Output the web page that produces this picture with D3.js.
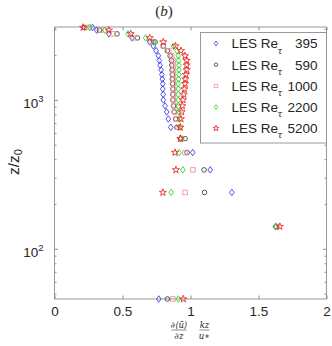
<!DOCTYPE html>
<html>
<head>
<meta charset="utf-8">
<script src="https://cdn.jsdelivr.net/npm/d3@7"></script>
<style>
  body { margin: 0; background: #fff; }
  text { font-family: "Liberation Sans", Arial, sans-serif; fill: #262626; }
</style>
</head>
<body>
<div id="chart"></div>
<script>
// z/z0 levels shared by all runs (bottom to top)
const zRows = [46, 141, 239, 339, 443, 550, 655, 745, 830, 912, 1000, 1090, 1185, 1285, 1380,
  1480, 1590, 1710, 1840, 1980, 2140, 2300, 2450, 2610, 2780, 2940, 3068]

// normalised gradient for each run
const re395 = [0.767, 1.625, 1.304, 1.145, 1.016, 0.925, 0.855, 0.837, 0.825, 0.813, 0.80, 0.80, 0.796,
  0.796, 0.793, 0.789, 0.784, 0.776, 0.771, 0.764, 0.747, 0.727, 0.70, 0.57, 0.40, 0.31, 0.28]
const re590 = [0.83, 1.63, 1.103, 1.10, 0.975, 0.96, 0.90, 0.89, 0.88, 0.875, 0.87, 0.87, 0.87,
  0.868, 0.866, 0.866, 0.864, 0.862, 0.86, 0.85, 0.83, 0.80, 0.74, 0.61, 0.46, 0.33, 0.22]
const re1000 = [0.871, 1.635, 0.96, 1.018, 0.96, 0.935, 0.91, 0.895, 0.885, 0.88, 0.875, 0.875, 0.874,
  0.874, 0.874, 0.874, 0.874, 0.874, 0.874, 0.862, 0.84, 0.80, 0.72, 0.58, 0.43, 0.34, 0.25]
const re2200 = [0.91, 1.628, 0.858, 0.944, 0.916, 0.93, 0.925, 0.92, 0.915, 0.912, 0.91, 0.91, 0.91,
  0.91, 0.912, 0.915, 0.915, 0.915, 0.912, 0.91, 0.90, 0.875, 0.73, 0.67, 0.54, 0.37, 0.26]
const re5200 = [0.947, 1.657, 0.797, 0.893, 0.886, 0.925, 0.925, 0.93, 0.935, 0.94, 0.945, 0.95, 0.955,
  0.96, 0.962, 0.966, 0.972, 0.972, 0.972, 0.96, 0.93, 0.89, 0.80, 0.70, 0.56, 0.40, 0.21]

const runLabels = ['395', '590', '1000', '2200', '5200']
const xTicks = [0, 0.5, 1, 1.5, 2]
const yTicks = [100, 1000]

const runs = [
  { label: runLabels[0], values: re395, color: '#3434ee', marker: 'diamond' },
  { label: runLabels[1], values: re590, color: '#3a3a3a', marker: 'circle' },
  { label: runLabels[2], values: re1000, color: '#f38c8c', marker: 'square' },
  { label: runLabels[3], values: re2200, color: '#22d622', marker: 'diamond' },
  { label: runLabels[4], values: re5200, color: '#ee2222', marker: 'star' }
]

const width = 332
const height = 346
const plot = { left: 54.5, right: 326.5, top: 27, bottom: 299 }

const svg = d3.select('#chart')
  .append('svg')
  .attr('width', width)
  .attr('height', height)

const x = d3.scaleLinear().domain([0, 2]).range([plot.left, plot.right])
const y = d3.scaleLog().domain([46, 3090]).range([plot.bottom, plot.top])

// marker shapes, s is roughly the marker width in px
const markerPath = (type, s) => {
  if (type === 'diamond') return `M0,${-s * 0.7}L${s * 0.5},0L0,${s * 0.7}L${-s * 0.5},0Z`
  if (type === 'square') return `M${-s / 2},${-s / 2}h${s}v${s}h${-s}Z`
  if (type === 'circle') return d3.symbol(d3.symbolCircle, s * s * 0.78)()
  return d3.symbol(d3.symbolStar, s * s * 0.5)()
}

// axes box
const axisColor = '#8f8f8f'
svg.append('rect')
  .attr('x', plot.left).attr('y', plot.top)
  .attr('width', plot.right - plot.left).attr('height', plot.bottom - plot.top)
  .attr('fill', 'none').attr('stroke', axisColor).attr('stroke-width', 0.9)

const styleAxis = g => {
  g.select('.domain').remove()
  g.selectAll('line').attr('stroke', axisColor)
  g.selectAll('text').attr('fill', '#262626').style('font-size', '13.5px')
    .style('font-family', '"Liberation Sans", Arial, sans-serif')
}

svg.append('g')
  .attr('transform', `translate(0,${plot.bottom})`)
  .call(d3.axisBottom(x).tickValues(xTicks).tickSize(-3.5).tickPadding(7).tickFormat(d3.format('')))
  .call(styleAxis)

svg.append('g')
  .attr('transform', `translate(0,${plot.top})`)
  .call(d3.axisTop(x).tickValues(xTicks).tickSize(-3.5).tickFormat(''))
  .call(styleAxis)

// minor ticks for the log axis
const minorTicks = y.ticks().filter(t => !yTicks.includes(t))
const yLeft = svg.append('g')
  .attr('transform', `translate(${plot.left},0)`)
  .call(d3.axisLeft(y).tickValues(yTicks).tickSize(-3.5).tickPadding(11).tickFormat(''))
  .call(styleAxis)
yLeft.selectAll('.tick text')
  .attr('dy', '0.55em')
  .each(function (d) {
    const t = d3.select(this)
    t.append('tspan').text('10')
    t.append('tspan').attr('dy', '-0.62em').style('font-size', '9.5px').text(Math.round(Math.log10(d)))
  })

svg.append('g')
  .attr('transform', `translate(${plot.right},0)`)
  .call(d3.axisRight(y).tickValues(yTicks).tickSize(-3.5).tickFormat(''))
  .call(styleAxis)

svg.append('g')
  .attr('transform', `translate(${plot.left},0)`)
  .call(d3.axisLeft(y).tickValues(minorTicks).tickSize(-2).tickFormat(''))
  .call(styleAxis)
svg.append('g')
  .attr('transform', `translate(${plot.right},0)`)
  .call(d3.axisRight(y).tickValues(minorTicks).tickSize(-2).tickFormat(''))
  .call(styleAxis)

// data markers
runs.forEach(run => {
  svg.append('g')
    .selectAll('path')
    .data(run.values.map((v, i) => ({ v, z: zRows[i] })))
    .enter().append('path')
    .attr('transform', d => `translate(${x(d.v)},${y(d.z)})`)
    .attr('d', markerPath(run.marker, run.marker === 'star' ? 5.6 : 4.6))
    .attr('fill', 'none')
    .attr('stroke', run.color)
    .attr('stroke-width', 0.85)
})

// legend
const legend = svg.append('g')
legend.append('rect')
  .attr('x', 200.5).attr('y', 32.5)
  .attr('width', 126).attr('height', 110.5)
  .attr('fill', '#fff').attr('stroke', axisColor).attr('stroke-width', 0.9)

const item = legend.selectAll('g.item')
  .data(runs)
  .enter().append('g')
  .attr('class', 'item')
  .attr('transform', (d, i) => `translate(0,${43.5 + i * 21.2})`)

item.append('path')
  .attr('transform', 'translate(216,0)')
  .attr('d', d => markerPath(d.marker, d.marker === 'star' ? 4.6 : 3.4))
  .attr('fill', 'none')
  .attr('stroke', d => d.color)
  .attr('stroke-width', 0.8)

item.append('text')
  .attr('x', 231.5).attr('y', 4.8)
  .style('font-size', '13.5px')
  .text('LES Re')
item.append('text')
  .attr('x', 277.5).attr('y', 10)
  .style('font-size', '8.5px')
  .style('font-family', '"DejaVu Serif", serif')
  .style('font-style', 'italic')
  .text('τ')
item.append('text')
  .attr('x', 317.5).attr('y', 4.8)
  .attr('text-anchor', 'end')
  .style('font-size', '13.5px')
  .text(d => d.label)

// title
const title = svg.append('text')
  .attr('x', 164).attr('y', 15.5)
  .attr('text-anchor', 'middle')
  .style('font-family', '"Liberation Serif", "DejaVu Serif", serif')
  .style('font-size', '15px')
title.append('tspan').text('(')
title.append('tspan').style('font-style', 'italic').text('b')
title.append('tspan').text(')')

// y label
const ylab = svg.append('text')
  .attr('transform', 'translate(19,162) rotate(-90)')
  .attr('text-anchor', 'middle')
  .style('font-size', '15.5px')
ylab.append('tspan').text('z/z')
ylab.append('tspan').attr('dy', '0.3em').style('font-size', '11px').text('0')

// x label: two stacked fractions
const serif = '"DejaVu Serif", "Liberation Serif", serif'
const frac = (cx, num, den, w) => {
  const g = svg.append('g')
  g.append('text').attr('x', cx).attr('y', 327.5).attr('text-anchor', 'middle')
    .style('font-family', serif).style('font-size', '8.5px').style('font-style', 'italic').text(num)
  g.append('line').attr('x1', cx - w / 2).attr('x2', cx + w / 2).attr('y1', 330).attr('y2', 330)
    .attr('stroke', '#444').attr('stroke-width', 0.6)
  g.append('text').attr('x', cx).attr('y', 338.5).attr('text-anchor', 'middle')
    .style('font-family', serif).style('font-size', '8.5px').style('font-style', 'italic').text(den)
}
frac(179, '∂⟨ū⟩', '∂z', 15)
frac(204.5, 'kz', 'u∗', 10)
</script>
</body>
</html>
